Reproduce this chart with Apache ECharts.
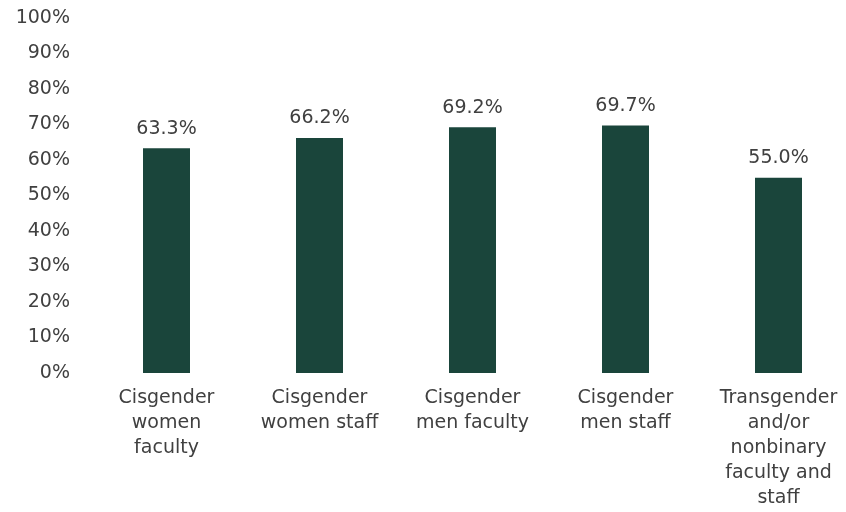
<!DOCTYPE html>
<html>
<head>
<meta charset="utf-8">
<script src="https://cdn.jsdelivr.net/npm/echarts@6/dist/echarts.min.js"></script>
<style>
  html, body { margin: 0; padding: 0; background: #ffffff; }
  #chart { width: 846px; height: 512px; }
</style>
</head>
<body>
<div id="chart"></div>
<script>
// Share of respondents by gender identity and role
const categories = [
  'Cisgender\nwomen\nfaculty',
  'Cisgender\nwomen staff',
  'Cisgender\nmen faculty',
  'Cisgender\nmen staff',
  'Transgender\nand/or\nnonbinary\nfaculty and\nstaff'
];
const values = [63.3, 66.2, 69.2, 69.7, 55.0];
const yTicks = [0, 10, 20, 30, 40, 50, 60, 70, 80, 90, 100];

const textColor = '#404040';
const barColor = '#1a453b';
const fontFamily = '"DejaVu Sans", sans-serif';
const fontSize = 19;

const chart = echarts.init(document.getElementById('chart'), null, { renderer: 'canvas' });
chart.setOption({
  animation: false,
  grid: {
    left: 90, top: 18, width: 765, height: 355,
    containLabel: false,
    outerBoundsMode: 'none'
  },
  xAxis: {
    type: 'category',
    data: categories,
    axisLine: { show: false },
    axisTick: { show: false },
    axisLabel: {
      color: textColor,
      fontFamily: fontFamily,
      fontSize: fontSize,
      lineHeight: 25,
      margin: 13,
      interval: 0,
      hideOverlap: false
    }
  },
  yAxis: {
    type: 'value',
    min: yTicks[0],
    max: yTicks[yTicks.length - 1],
    interval: 10,
    splitLine: { show: false },
    axisLine: { show: false },
    axisTick: { show: false },
    axisLabel: {
      color: textColor,
      fontFamily: fontFamily,
      fontSize: fontSize,
      margin: 20,
      formatter: v => v + '%'
    }
  },
  series: [{
    type: 'bar',
    data: values,
    barWidth: 47,
    itemStyle: { color: barColor },
    label: {
      show: true,
      position: 'top',
      distance: 10,
      color: textColor,
      fontFamily: fontFamily,
      fontSize: fontSize,
      formatter: p => p.value.toFixed(1) + '%'
    }
  }]
});
</script>
</body>
</html>
